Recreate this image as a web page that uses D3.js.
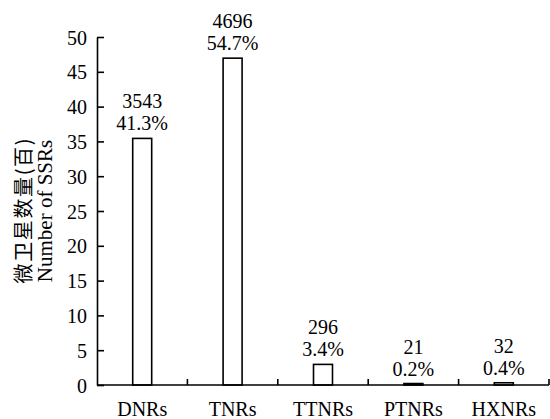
<!DOCTYPE html>
<html lang="zh">
<head>
<meta charset="utf-8" />
<title>SSR types</title>
<style>
	* {margin: 0; padding: 0;}
	body {background: #fff;}
	text {font-family: "Liberation Serif", "Times New Roman", serif; fill: #000;}
	.cjk {font-family: "Noto Sans CJK SC", sans-serif;}
</style>
</head>
<body>
<div id="viz"></div>
<script src="https://cdn.jsdelivr.net/npm/d3@7"></script>
<script>

// data: counts per repeat type, in hundreds on the axis
var categories = ["DNRs", "TNRs", "TTNRs", "PTNRs", "HXNRs"];
var counts = [3543, 4696, 296, 21, 32];
var percents = ["41.3%", "54.7%", "3.4%", "0.2%", "0.4%"];
var yTicks = [0, 5, 10, 15, 20, 25, 30, 35, 40, 45, 50];

var w = 550, h = 419;
var pLeft = 97, pRight = 549, pTop = 37, pBottom = 385;

var svg = d3.select("#viz").append("svg").attr("width", w).attr("height", h);

var x = d3.scaleBand().domain(categories).range([pLeft, pRight]).padding(0);
var y = d3.scaleLinear().domain([0, 50]).range([pBottom, pTop]);
var barW = x.bandwidth() * 0.21;

// bars
svg.selectAll("rect.bar")
	.data(categories)
	.enter()
	.append("rect")
	.attr("class", "bar")
	.attr("x", function(d){return x(d) + x.bandwidth()/2 - barW/2})
	.attr("y", function(d, i){return y(counts[i]/100)})
	.attr("width", barW)
	.attr("height", function(d, i){return pBottom - y(counts[i]/100)})
	.style("fill", "#fff")
	.style("stroke", "#000")
	.style("stroke-width", 1.6);

// value labels (count + share)
var lab = svg.selectAll("g.lab")
	.data(categories)
	.enter()
	.append("g")
	.attr("class", "lab");

lab.append("text")
	.attr("text-anchor", "middle")
	.attr("x", function(d){return x(d) + x.bandwidth()/2})
	.attr("y", function(d, i){return y(counts[i]/100) - 30})
	.style("font-size", "20px")
	.text(function(d, i){return counts[i];});

lab.append("text")
	.attr("text-anchor", "middle")
	.attr("x", function(d){return x(d) + x.bandwidth()/2})
	.attr("y", function(d, i){return y(counts[i]/100) - 8})
	.style("font-size", "20px")
	.text(function(d, i){return percents[i];});

// y axis
var yAxis = d3.axisLeft(y).tickValues(yTicks).tickSizeInner(-7).tickSizeOuter(0).tickPadding(10);
var gy = svg.append("g").attr("transform", "translate(" + pLeft + ",0)").call(yAxis);
gy.selectAll("text").style("font-size", "20px").attr("dy", "0.35em");
gy.selectAll("line, path").style("stroke", "#000").style("stroke-width", 1.6);

// x axis: ticks sit on band edges, pointing up
var gx = svg.append("g").attr("transform", "translate(0," + pBottom + ")");
gx.append("line")
	.attr("x1", pLeft).attr("x2", pRight)
	.style("stroke", "#000").style("stroke-width", 1.6);
gx.selectAll("line.tk")
	.data(categories)
	.enter()
	.append("line")
	.attr("class", "tk")
	.attr("x1", function(d){return x(d) + x.bandwidth()})
	.attr("x2", function(d){return x(d) + x.bandwidth()})
	.attr("y1", 0).attr("y2", -6)
	.style("stroke", "#000").style("stroke-width", 1.6);
gx.selectAll("text")
	.data(categories)
	.enter()
	.append("text")
	.attr("text-anchor", "middle")
	.attr("x", function(d){return x(d) + x.bandwidth()/2})
	.attr("y", 31)
	.style("font-size", "20px")
	.text(function(d){return d;});

// y title, two lines
var cy = (pTop + pBottom)/2;
svg.append("text")
	.attr("class", "cjk")
	.attr("text-anchor", "middle")
	.attr("transform", "translate(31," + cy + ") rotate(-90)")
	.style("font-size", "20px")
	.attr("textLength", 145)
	.text("微卫星数量(百)");
svg.append("text")
	.attr("text-anchor", "middle")
	.attr("transform", "translate(52," + cy + ") rotate(-90)")
	.style("font-size", "21px")
	.text("Number of SSRs");
</script>
</body>
</html>
